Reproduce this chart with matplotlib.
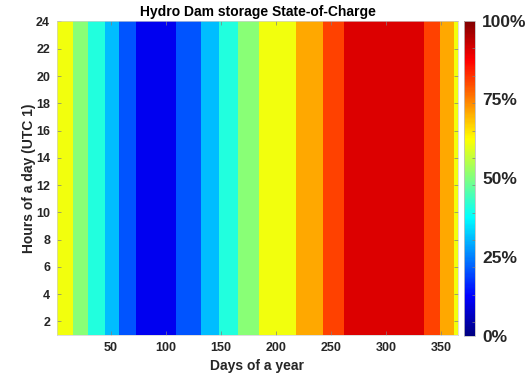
import numpy as np
import matplotlib
matplotlib.use('Agg')
import matplotlib.pyplot as plt
from matplotlib.colors import ListedColormap, Normalize
from matplotlib.cm import ScalarMappable

# Day boundaries where the storage level changes band, and the level of each band (fraction of full)
day_edges = [1, 15.7, 28.8, 44.5, 57, 72.7, 109, 131.5, 148.2, 165.5, 184.5,
             218.2, 242.5, 261.8, 333.9, 348.5, 361.5, 365]
soc_levels = [0.61, 0.51, 0.41, 0.31, 0.21, 0.11, 0.21, 0.31, 0.41, 0.51, 0.61,
              0.71, 0.81, 0.91, 0.81, 0.71, 0.61]
hour_edges = [1, 24]

x_ticks = [50, 100, 150, 200, 250, 300, 350]
y_ticks = [2, 4, 6, 8, 10, 12, 14, 16, 18, 20, 22, 24]
cb_ticks = [0, 0.25, 0.5, 0.75, 1.0]
cb_labels = ['0%', '25%', '50%', '75%', '100%']
cb_minor = [0.043, 0.13, 0.218, 0.304, 0.389, 0.479, 0.563, 0.65, 0.738, 0.825, 0.912]


def matlab_jet(n=256):
    # same piecewise ramps as the classic MATLAB jet map
    v = np.linspace(0, 1, n)
    r = np.clip(1.5 - np.abs(4 * v - 3), 0, 1)
    g = np.clip(1.5 - np.abs(4 * v - 2), 0, 1)
    b = np.clip(1.5 - np.abs(4 * v - 1), 0, 1)
    return ListedColormap(np.column_stack([r, g, b]))


plt.rcParams['font.family'] = ['Liberation Sans', 'DejaVu Sans']
plt.rcParams['font.weight'] = 'bold'
txt = '#262626'

cmap = matlab_jet()
norm = Normalize(0, 1)

fig = plt.figure(figsize=(5.31, 3.75), dpi=100)
ax = fig.add_axes([0.1073, 0.1067, 0.7552, 0.836])

C = np.array(soc_levels).reshape(1, -1)
ax.pcolormesh(day_edges, hour_edges, C, cmap=cmap, norm=norm, shading='flat')
ax.set_xlim(1, 365)
ax.set_ylim(1, 24)
ax.set_xticks(x_ticks)
ax.set_yticks(y_ticks)
ax.tick_params(direction='in', length=3, width=0.5, color='#808080',
               labelsize=9, labelcolor=txt, top=True, right=True, pad=5)
for lab in ax.get_xticklabels() + ax.get_yticklabels():
    lab.set_fontweight('bold')
for s in ax.spines.values():
    s.set_color('#d0d0d0')
    s.set_linewidth(0.5)

ax.set_title('Hydro Dam storage State-of-Charge', fontsize=10, fontweight='bold',
             color='black', pad=4)
ax.set_xlabel('Days of a year', fontsize=10, fontweight='bold', color=txt, labelpad=4)
ax.set_ylabel('Hours of a day (UTC 1)', fontsize=10, fontweight='bold', color=txt, labelpad=0)

cax = fig.add_axes([0.8744, 0.104, 0.0201, 0.841])
cb = fig.colorbar(ScalarMappable(norm=norm, cmap=cmap), cax=cax)
cb.set_ticks(cb_ticks)
cb.set_ticklabels(cb_labels)
cb.ax.set_yticks(cb_minor, minor=True)
cb.ax.tick_params(which='major', length=0, pad=5, labelsize=12.5, labelcolor=txt)
cb.ax.tick_params(which='minor', direction='in', length=2, width=0.5, color='#808080')
for lab in cb.ax.get_yticklabels():
    lab.set_fontweight('bold')
cb.outline.set_edgecolor('#c0c0c0')
cb.outline.set_linewidth(0.6)

fig.savefig('out.png', dpi=100)
